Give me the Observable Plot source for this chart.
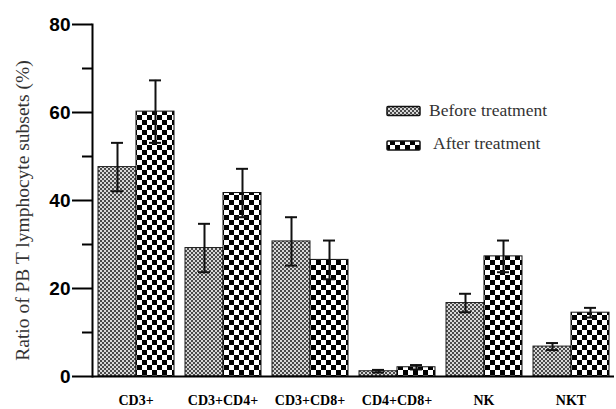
<!DOCTYPE html>
<html>
<head>
<meta charset="utf-8">
<script src="https://cdn.jsdelivr.net/npm/d3@7"></script>
<script src="https://cdn.jsdelivr.net/npm/@observablehq/plot@0.6"></script>
<style>
  html, body { margin: 0; padding: 0; background: #fff; }
  #wrap { position: relative; width: 616px; height: 409px; }
  #legend { position: absolute; left: 0; top: 0; pointer-events: none; }
</style>
</head>
<body>
<div id="wrap"></div>
<script>
const categories = ["CD3+", "CD3+CD4+", "CD3+CD8+", "CD4+CD8+", "NK", "NKT"];
const groups = ["Before treatment", "After treatment"];
const beforeValues = [47.6, 29.2, 30.7, 1.2, 16.7, 6.8];
const beforeErrors = [5.5, 5.5, 5.5, 0.3, 2.1, 0.8];
const afterValues = [60.2, 41.7, 26.5, 2.1, 27.3, 14.5];
const afterErrors = [7.1, 5.5, 4.4, 0.5, 3.6, 1.1];
const majorTicks = [0, 20, 40, 60, 80];
const minorTicks = [10, 30, 50, 70];
const yLabel = "Ratio of PB T lymphocyte subsets (%)";

const before = categories.map((c, i) => ({cat: c, group: groups[0], value: beforeValues[i], err: beforeErrors[i]}));
const after = categories.map((c, i) => ({cat: c, group: groups[1], value: afterValues[i], err: afterErrors[i]}));
const rows = before.concat(after);

const chart = Plot.plot({
  width: 616,
  height: 409,
  marginLeft: 90,
  marginRight: 0,
  marginTop: 24,
  marginBottom: 33,
  style: {background: "#fff"},
  fx: {domain: categories, padding: 0, label: null},
  x: {domain: groups, paddingInner: 0, paddingOuter: 0.141, axis: null},
  y: {domain: [0, 80], label: null},
  marks: [
    Plot.barY(before, {fx: "cat", x: "group", y: "value", fill: "url(#pBefore)", stroke: "#222", strokeWidth: 1}),
    Plot.barY(after, {fx: "cat", x: "group", y: "value", fill: "url(#pAfter)", stroke: "#111", strokeWidth: 1}),
    Plot.ruleX(rows, {fx: "cat", x: "group", y1: d => d.value - d.err, y2: d => d.value + d.err, stroke: "#111", strokeWidth: 2}),
    Plot.tickY(rows, {fx: "cat", x: "group", y: d => d.value + d.err, stroke: "#111", strokeWidth: 2, insetLeft: 13, insetRight: 13}),
    Plot.tickY(rows, {fx: "cat", x: "group", y: d => d.value - d.err, stroke: "#111", strokeWidth: 2, insetLeft: 13, insetRight: 13}),
    Plot.ruleY([0], {stroke: "#000", strokeWidth: 2}),
    Plot.frame({anchor: "left", facetAnchor: "left", stroke: "#000", strokeWidth: 2}),
    Plot.axisY({ticks: majorTicks, tickSize: 20, tickPadding: 2, strokeWidth: 2, fontSize: 19, fontWeight: "bold", fontFamily: "Liberation Sans, Arial, sans-serif", fill: "#000", label: null}),
    Plot.axisY({ticks: minorTicks, tickSize: 10, strokeWidth: 2, tickFormat: () => "", label: null}),
    Plot.axisFx({anchor: "bottom", tickSize: 0, tickPadding: 19, fontSize: 14, fontWeight: "bold", fontFamily: "Liberation Serif, Times New Roman, serif", fill: "#000", label: null}),
    Plot.text([yLabel], {frameAnchor: "left", facetAnchor: "left", textAnchor: "middle", lineAnchor: "middle", rotate: -90, dx: -70, dy: 10, fontSize: 19.5, fontFamily: "Liberation Serif, Times New Roman, serif", fill: "#333", text: d => d, clip: false})
  ]
});

// pattern definitions referenced by bar fills
const ns = "http://www.w3.org/2000/svg";
function makeDefs(svg, prefix) {
  const defs = document.createElementNS(ns, "defs");
  defs.innerHTML = `
    <pattern id="${prefix}Before" patternUnits="userSpaceOnUse" width="4" height="4">
      <rect width="4" height="4" fill="#4a4a4a"/>
      <rect x="0" y="0" width="2" height="2" fill="#d8d8d8"/>
      <rect x="2" y="2" width="2" height="2" fill="#d8d8d8"/>
    </pattern>
    <pattern id="${prefix}After" patternUnits="userSpaceOnUse" width="10" height="10">
      <rect width="10" height="10" fill="#fff"/>
      <rect x="0" y="0" width="5" height="5" fill="#000"/>
      <rect x="5" y="5" width="5" height="5" fill="#000"/>
    </pattern>`;
  svg.insertBefore(defs, svg.firstChild);
}
makeDefs(chart, "p");
document.getElementById("wrap").appendChild(chart);

// legend overlay
const leg = document.createElementNS(ns, "svg");
leg.setAttribute("id", "legend");
leg.setAttribute("width", 616);
leg.setAttribute("height", 409);
makeDefs(leg, "l");
const legendItems = [
  {label: groups[0], fill: "url(#lBefore)", y: 106.5, tx: 429, ty: 116},
  {label: groups[1], fill: "url(#lAfter)", y: 141, tx: 433, ty: 148.5}
];
legendItems.forEach(it => {
  const r = document.createElementNS(ns, "rect");
  r.setAttribute("x", 387); r.setAttribute("y", it.y);
  r.setAttribute("width", 33); r.setAttribute("height", 9);
  r.setAttribute("fill", it.fill); r.setAttribute("stroke", "#111"); r.setAttribute("stroke-width", 1.5);
  r.setAttribute("rx", 1);
  leg.appendChild(r);
  const t = document.createElementNS(ns, "text");
  t.setAttribute("x", it.tx); t.setAttribute("y", it.ty);
  t.setAttribute("font-family", "Liberation Serif, Times New Roman, serif");
  t.setAttribute("font-size", 17.5);
  t.setAttribute("fill", "#333");
  t.textContent = it.label;
  leg.appendChild(t);
});
document.getElementById("wrap").appendChild(leg);
</script>
</body>
</html>
